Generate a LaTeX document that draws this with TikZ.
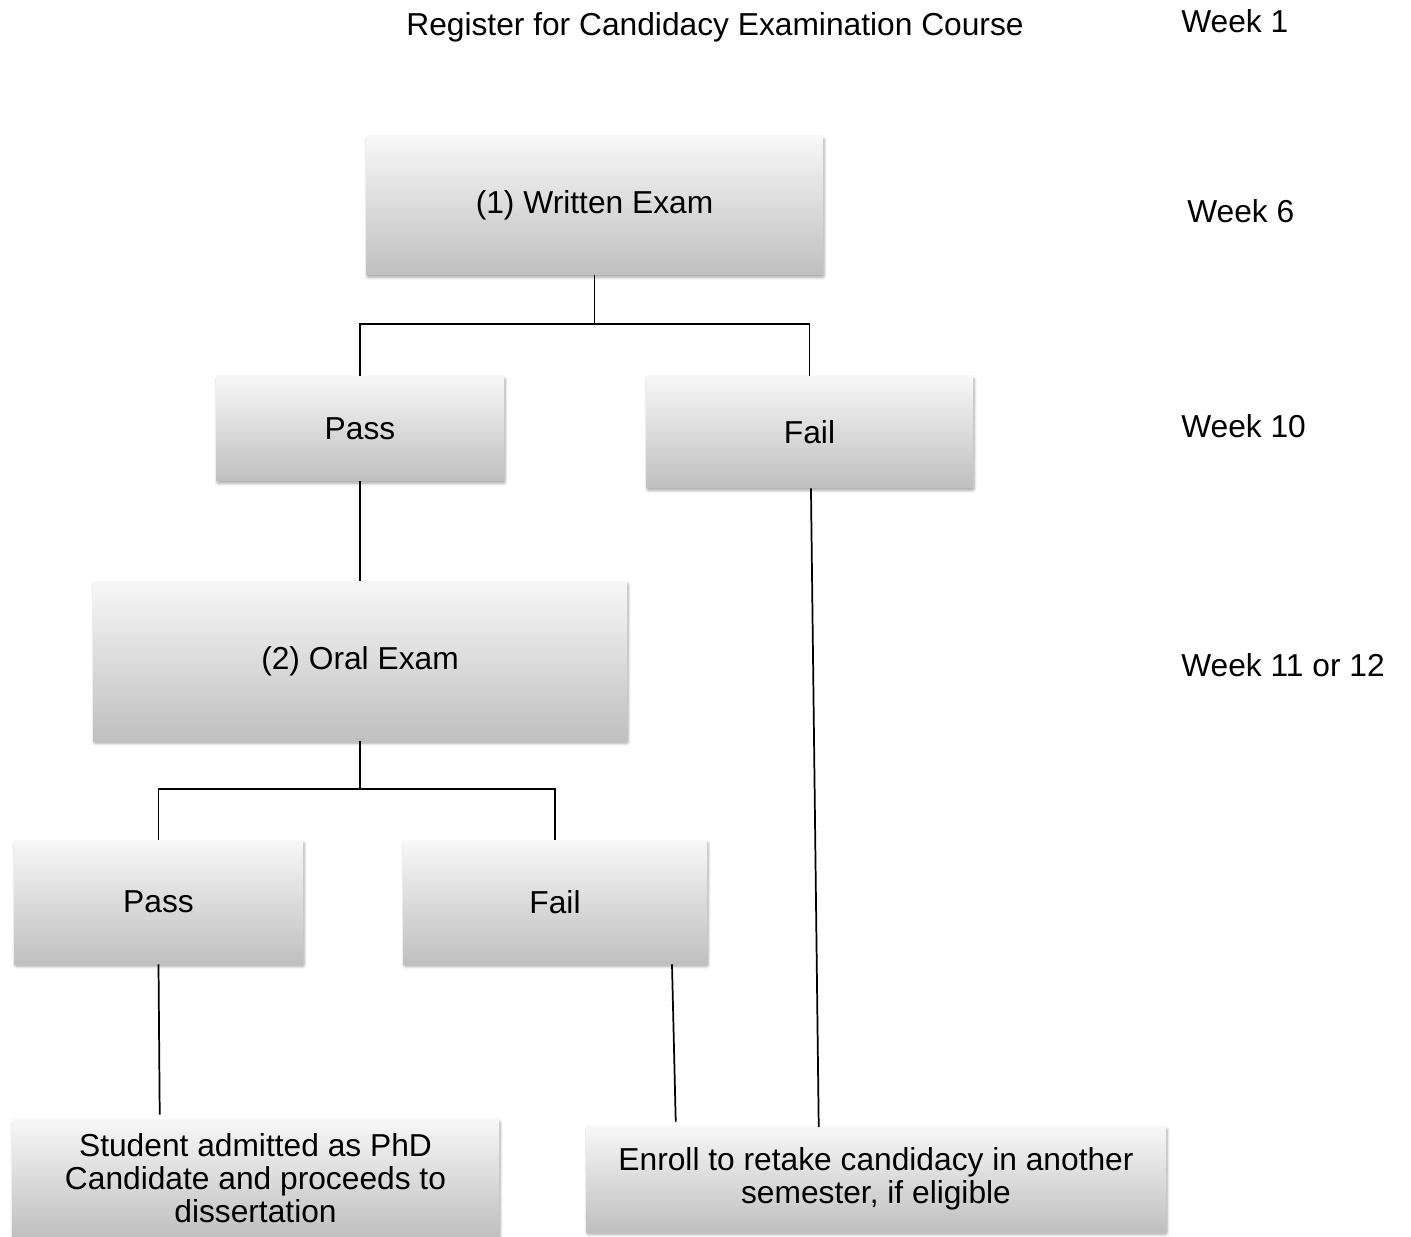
\documentclass[tikz,border=0pt]{standalone}
\usepackage{fontspec}
\setmainfont{Liberation Sans}
\usetikzlibrary{shadows.blur,calc}
\begin{document}
\begin{tikzpicture}[x=0.75pt,y=-0.75pt,
  every node/.style={font=\fontsize{23.8}{24.5}\selectfont},
  box/.style={rectangle, inner sep=0pt, align=center, top color=black!3, bottom color=black!25,
    blur shadow={shadow blur steps=6, shadow xshift=0.8pt, shadow yshift=-1.8pt, shadow opacity=35, shadow blur extra rounding=1pt}},
  conn/.style={line width=1.3pt, black},
  lbl/.style={anchor=base west, inner sep=0pt}]
\useasboundingbox (0,0) rectangle (1411,1237);
% title and week labels
\node[anchor=base, inner sep=0pt] (title) at (715,36) {Register for Candidacy Examination Course};
\node[lbl] (w1) at (1181,33) {Week 1};
\node[lbl] (w6) at (1187,223) {Week 6};
\node[lbl] (w10) at (1181,438) {Week 10};
\node[lbl] (w11) at (1181,676) {Week 11 or 12};
% boxes
\node[box, minimum width=342.75pt, minimum height=104.25pt] (we) at (594.5,205.5) {(1) Written Exam};
\node[box, minimum width=216pt, minimum height=78.75pt] (p1) at (360,428.5) {Pass};
\node[box, minimum width=245.25pt, minimum height=84pt] (f1) at (809.5,432) {Fail};
\node[box, minimum width=400.5pt, minimum height=120pt] (oe) at (360,661) {(2) Oral Exam};
\node[box, minimum width=216.75pt, minimum height=93pt] (p2) at (158.5,902) {Pass};
\node[box, minimum width=228pt, minimum height=93pt] (f2) at (555,902) {Fail};
\node[box, minimum width=365.25pt, minimum height=88.5pt] (st) at (255.5,1178) {Student admitted as PhD\\Candidate and proceeds to\\dissertation};
\node[box, minimum width=435pt, minimum height=79.5pt] (en) at (876,1179) {Enroll to retake candidacy in another\\semester, if eligible};
% connectors
\coordinate (j1) at (594.5,324);
\coordinate (j2) at (360,789);
\draw[conn] (we.south) -- (j1);
\draw[conn] (p1.north) |- (j1) -| (f1.north);
\draw[conn] (p1.south) -- (oe.north);
\draw[conn] (oe.south) -- (j2);
\draw[conn] (p2.north) |- (j2) -| (f2.north);
\draw[conn] (p2.south) -- ([xshift=111pt,yshift=3pt]st.north west);
\draw[conn] ([xshift=87.75pt]f2.south) -- ([xshift=67.5pt,yshift=3pt]en.north west);
\draw[conn] ([xshift=1.1pt]f1.south) -- ([xshift=174.75pt,yshift=-1pt]en.north west);
\end{tikzpicture}
\end{document}
